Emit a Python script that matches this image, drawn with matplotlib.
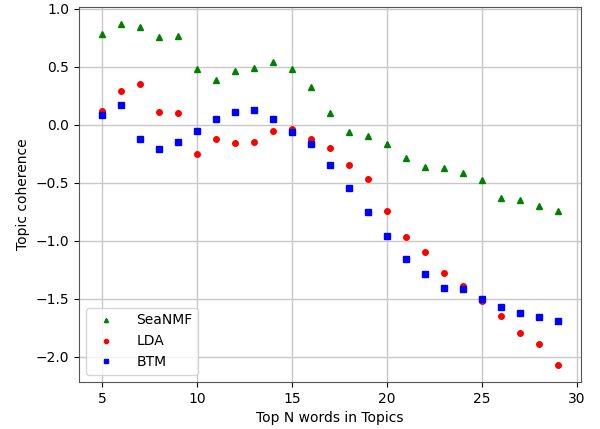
import numpy as np
import matplotlib
matplotlib.use("Agg")
import matplotlib.pyplot as plt

# top N words
n_words = list(range(5, 30))

seanmf = [0.78, 0.87, 0.84, 0.76, 0.77, 0.48, 0.39, 0.46, 0.49, 0.54, 0.48, 0.33, 0.10,
          -0.065, -0.10, -0.17, -0.29, -0.36, -0.37, -0.42, -0.48, -0.63, -0.645, -0.70, -0.74]
lda = [0.12, 0.29, 0.35, 0.11, 0.105, -0.25, -0.12, -0.16, -0.15, -0.05, -0.04, -0.12, -0.20,
       -0.35, -0.47, -0.74, -0.97, -1.10, -1.28, -1.39, -1.52, -1.65, -1.80, -1.89, -2.07]
btm = [0.085, 0.17, -0.12, -0.205, -0.15, -0.053, 0.05, 0.114, 0.125, 0.05, -0.06, -0.165, -0.35,
       -0.545, -0.75, -0.96, -1.16, -1.29, -1.41, -1.42, -1.50, -1.57, -1.62, -1.66, -1.69]

fig, ax = plt.subplots(figsize=(6, 4.29), dpi=100)
fig.subplots_adjust(left=0.132, right=0.968, top=0.984, bottom=0.11)

ax.plot(n_words, seanmf, 'g^', markersize=4, label='SeaNMF')
ax.plot(n_words, lda, 'ro', markersize=4, label='LDA')
ax.plot(n_words, btm, 'bs', markersize=4, label='BTM')

ax.grid(True, color='#c8c8c8', linewidth=1)
ax.set_axisbelow(True)
for s in ax.spines.values():
    s.set_color('#555555')
ax.set_xlabel('Top N words in Topics')
ax.set_ylabel('Topic coherence')
ax.legend(loc='lower left', markerscale=0.75, handletextpad=1.2)

plt.savefig('out.png')
